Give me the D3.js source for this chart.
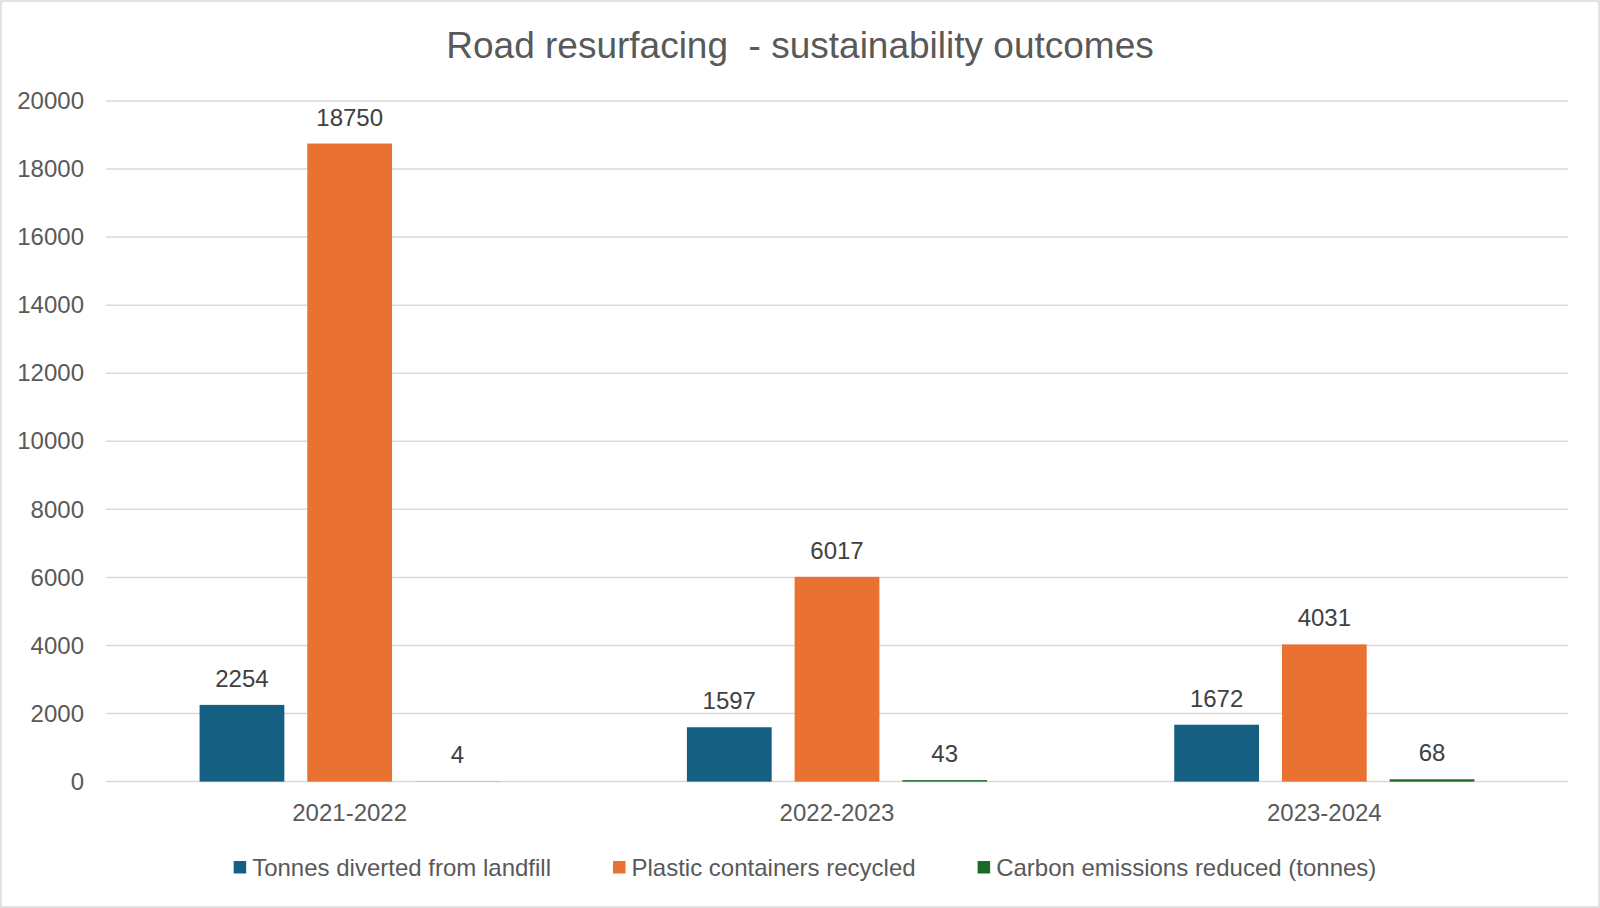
<!DOCTYPE html>
<html>
<head>
<meta charset="utf-8">
<script src="https://cdn.jsdelivr.net/npm/d3@7"></script>
<style>
  body { margin: 0; background: #fff; }
  text { font-family: "Liberation Sans", Arial, sans-serif; }
</style>
</head>
<body>
<div id="chart-container"></div>
<script>
const svgWidth = 1600,
    svgHeight = 908,
    margin = { top: 101, right: 32, bottom: 126.4, left: 106 },
    width = svgWidth - margin.left - margin.right,
    height = svgHeight - margin.top - margin.bottom;

// data
const categories = ["2021-2022", "2022-2023", "2023-2024"];
const seriesNames = ["Tonnes diverted from landfill", "Plastic containers recycled", "Carbon emissions reduced (tonnes)"];
const tonnesDiverted = [2254, 1597, 1672];
const plasticRecycled = [18750, 6017, 4031];
const carbonReduced = [4, 43, 68];
const yTicks = [0, 2000, 4000, 6000, 8000, 10000, 12000, 14000, 16000, 18000, 20000];
const colors = ["#156082", "#E97132", "#196B24"];

const seriesValues = [tonnesDiverted, plasticRecycled, carbonReduced];

var root = d3.select("#chart-container").append("svg")
    .attr("width", svgWidth)
    .attr("height", svgHeight);

// chart border
root.append("rect")
    .attr("x", 1).attr("y", 1)
    .attr("width", svgWidth - 2).attr("height", svgHeight - 2)
    .attr("fill", "#fff")
    .attr("stroke", "#d9d9d9")
    .attr("stroke-width", 1.5);

// title (keeps the double space)
root.append("text")
    .attr("x", 800)
    .attr("y", 58)
    .attr("text-anchor", "middle")
    .attr("font-size", 37)
    .attr("fill", "#595959")
    .style("white-space", "pre")
    .text("Road resurfacing  - sustainability outcomes");

var svg = root.append("g")
    .attr("transform", "translate(" + margin.left + "," + margin.top + ")");

// scales
let x0 = d3.scaleBand()
        .domain(categories)
        .range([0, width])
        .paddingInner(0.384)
        .paddingOuter(0.192),
    x1 = d3.scaleBand()
        .domain(seriesNames)
        .range([0, x0.bandwidth()])
        .paddingInner(0.213)
        .paddingOuter(0),
    yScale = d3.scaleLinear()
        .domain([0, 20000])
        .range([height, 0]);

// gridlines
svg.append("g")
    .selectAll("line")
    .data(yTicks)
    .join("line")
    .attr("x1", 0)
    .attr("x2", width)
    .attr("y1", (d) => yScale(d))
    .attr("y2", (d) => yScale(d))
    .attr("stroke", "#d9d9d9")
    .attr("stroke-width", 1.5);

// y axis labels
let yAxis = svg.append("g")
    .attr("transform", "translate(-22,0)")
    .call(d3.axisLeft(yScale).tickValues(yTicks).tickSize(0).tickPadding(0).tickFormat(d3.format("d")));
yAxis.select(".domain").remove();
yAxis.selectAll("text")
    .attr("font-size", 24)
    .attr("fill", "#595959")
    .style("font-family", "Liberation Sans, Arial, sans-serif");

// x axis labels
let xAxis = svg.append("g")
    .attr("transform", "translate(0," + height + ")")
    .call(d3.axisBottom(x0).tickSize(0).tickPadding(22));
xAxis.select(".domain").remove();
xAxis.selectAll("text")
    .attr("font-size", 24)
    .attr("fill", "#595959")
    .style("font-family", "Liberation Sans, Arial, sans-serif");

// bars
let barData = [];
categories.forEach((cat, i) => {
    seriesNames.forEach((name, j) => {
        barData.push({ cat: cat, name: name, value: seriesValues[j][i], color: colors[j] });
    });
});

svg.selectAll("rect.bar")
    .data(barData)
    .join("rect")
    .attr("class", "bar")
    .attr("x", (d) => x0(d.cat) + x1(d.name))
    .attr("y", (d) => yScale(d.value))
    .attr("width", x1.bandwidth())
    .attr("height", (d) => height - yScale(d.value))
    .attr("fill", (d) => d.color);

// data labels
svg.selectAll("text.label")
    .data(barData)
    .join("text")
    .attr("class", "label")
    .attr("x", (d) => x0(d.cat) + x1(d.name) + x1.bandwidth() / 2)
    .attr("y", (d) => yScale(d.value) - 18)
    .attr("text-anchor", "middle")
    .attr("font-size", 24)
    .attr("fill", "#404040")
    .text((d) => d.value);

// legend
let legend = root.append("g");
let items = legend.selectAll("g")
    .data(seriesNames)
    .join("g");
items.append("rect")
    .attr("y", 861)
    .attr("width", 12.5)
    .attr("height", 12.5)
    .attr("fill", (d, i) => colors[i]);
items.append("text")
    .attr("x", 18.5)
    .attr("y", 875.5)
    .attr("font-size", 24)
    .attr("fill", "#595959")
    .text((d) => d);

let itemGap = 62, offset = 0, positions = [];
items.each(function () {
    positions.push(offset);
    offset += 18.5 + d3.select(this).select("text").node().getComputedTextLength() + itemGap;
});
let legendWidth = offset - itemGap;
let legendStart = 805 - legendWidth / 2;
items.attr("transform", (d, i) => "translate(" + (legendStart + positions[i]) + ",0)");
</script>
</body>
</html>
